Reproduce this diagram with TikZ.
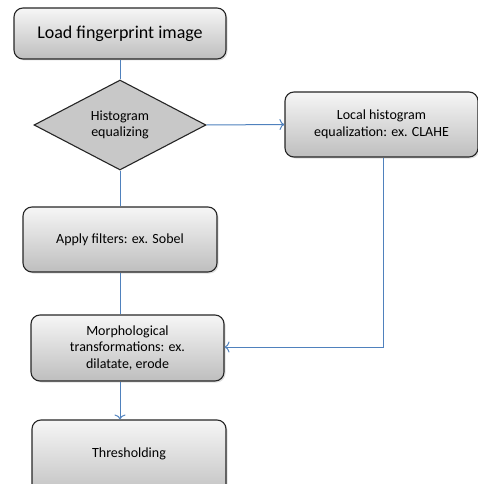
\documentclass[tikz,border=0pt]{standalone}
\usepackage{fontspec}
\setmainfont{Carlito}
\usetikzlibrary{shapes.geometric,arrows.meta,shadows}
\definecolor{lineblue}{RGB}{79,129,189}
\definecolor{boxtop}{RGB}{246,246,246}
\definecolor{boxbot}{RGB}{190,190,190}
\definecolor{dia}{RGB}{200,200,200}
\tikzset{
  procbox/.style={draw=black!85, line width=1.1pt, rounded corners=9pt, top color=boxtop, bottom color=boxbot,
    drop shadow={shadow xshift=1.5pt, shadow yshift=-1.5pt, opacity=0.25}, align=center, font=\fontsize{14}{16.5}\selectfont, inner sep=0pt},
  decision/.style={draw=black!85, line width=1.1pt, diamond, fill=dia, aspect=1.9, align=center, font=\fontsize{14}{16.5}\selectfont, inner sep=0pt},
  flow/.style={draw=lineblue, line width=1pt},
  flowarrow/.style={flow, -{To[length=5pt,width=11pt,line width=1pt]}}
}
\begin{document}
\begin{tikzpicture}[x=1pt,y=-1pt]
\useasboundingbox (0,0) rectangle (478,484);
\node[procbox, minimum width=212pt, minimum height=51pt, font=\fontsize{18}{21}\selectfont] (load) at (120,33.5) {Load fingerprint image};
\node[decision, minimum width=172pt, minimum height=90pt] (hist) at (120,125) {Histogram\\equalizing};
\node[procbox, minimum width=193pt, minimum height=65pt] (clahe) at (381.5,124.5) {Local histogram\\equalization: ex. CLAHE};
\node[procbox, minimum width=194pt, minimum height=65pt] (sobel) at (120,239.5) {Apply filters: ex. Sobel};
\node[procbox, minimum width=193pt, minimum height=66pt] (morph) at (127.5,348) {Morphological\\transformations: ex.\\dilatate, erode};
\node[procbox, minimum width=194pt, minimum height=80pt, text depth=14pt] (thr) at (129,460) {Thresholding};
\draw[flow] (load.south -| 120,0) -- (hist.north);
\draw[flow] (hist.south) -- (sobel.north -| 120,0);
\draw[flow] (sobel.south -| 120,0) -- (morph.north -| 120,0);
\draw[flowarrow] (morph.south -| 120,0) -- (thr.north -| 120,0);
\draw[flowarrow] (hist.east) -- (clahe.west);
\coordinate (corner) at (383,347);
\draw[flowarrow] (clahe.south -| corner) -- (corner) -- (morph.east |- corner);
\end{tikzpicture}
\end{document}
